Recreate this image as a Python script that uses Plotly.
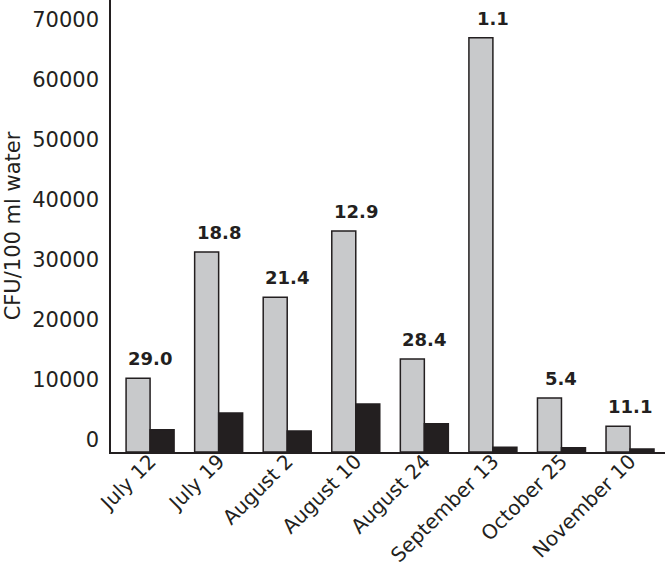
import plotly.graph_objects as go

categories = ["July 12", "July 19", "August 2", "August 10", "August 24",
              "September 13", "October 25", "November 10"]
total_cfu = [12300, 33300, 25800, 36800, 15500, 69000, 9000, 4300]
subset_cfu = [3700, 6500, 3500, 8000, 4700, 800, 700, 500]
pct_labels = ["29.0", "18.8", "21.4", "12.9", "28.4", "1.1", "5.4", "11.1"]
y_ticks = [0, 10000, 20000, 30000, 40000, 50000, 60000, 70000]

dark = "#231f20"
gray = "#c8c9cb"
font = "DejaVu Sans"

fig = go.Figure()
fig.add_trace(go.Bar(x=categories, y=total_cfu, marker=dict(color=gray, line=dict(color=dark, width=1.5)),
                     showlegend=False))
fig.add_trace(go.Bar(x=categories, y=subset_cfu, marker=dict(color=dark, line=dict(color=dark, width=1.5)),
                     showlegend=False))

for c, v, t in zip(categories, total_cfu, pct_labels):
    fig.add_annotation(x=c, y=v, text="<b>" + t + "</b>", showarrow=False,
                       yanchor="bottom", yshift=7, font=dict(family=font, size=18, color=dark))

fig.update_layout(
    width=667, height=572,
    margin=dict(l=111, r=2, t=0, b=120),
    plot_bgcolor="white", paper_bgcolor="white",
    barmode="group", bargap=0.3, bargroupgap=0,
    font=dict(family=font, color=dark),
)
fig.update_xaxes(range=[-0.57, 7.51], showline=True, linecolor=dark, linewidth=1.5,
                 ticks="", tickangle=-45, tickfont=dict(family=font, size=20, color=dark),
                 ticklabelstandoff=-12, showgrid=False, automargin=False)
fig.update_yaxes(range=[0, 75300], showline=True, linecolor=dark, linewidth=1.5,
                 ticks="", tickvals=y_ticks, ticktext=[str(v) for v in y_ticks],
                 tickfont=dict(family=font, size=21, color=dark), ticklabelshift=-12,
                 ticklabelstandoff=6, showgrid=False, zeroline=False, automargin=False,
                 title=dict(text="CFU/100 ml water", font=dict(family=font, size=21, color=dark), standoff=6))

fig.write_html("out.html", config={"displayModeBar": False},
               post_script="document.body.style.margin='0';document.body.style.overflow='hidden';")
